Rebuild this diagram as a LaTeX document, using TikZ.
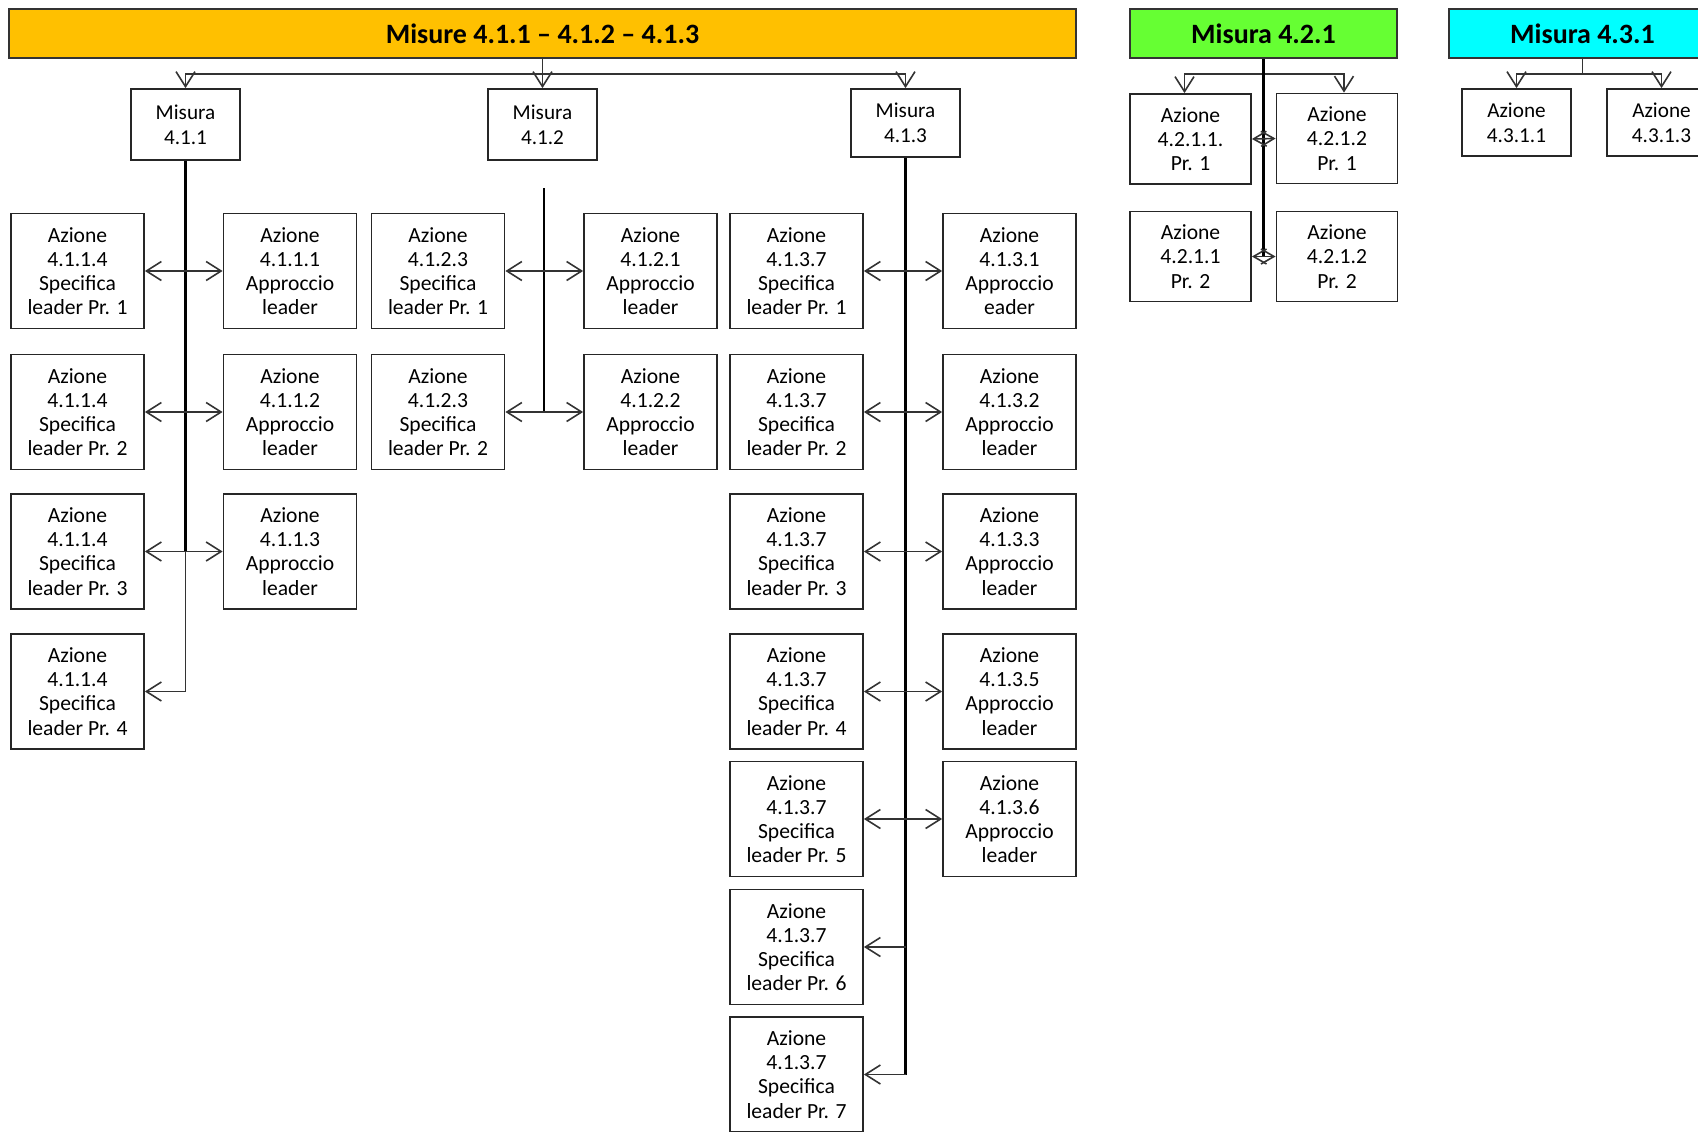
\documentclass[tikz,border=0pt]{standalone}
\usepackage{fontspec}
\setmainfont{Carlito}
\usetikzlibrary{arrows.meta}
\definecolor{barorange}{RGB}{255,192,0}
\definecolor{bargreen}{RGB}{102,255,51}
\definecolor{barcyan}{RGB}{0,255,255}
\tikzset{
  bar/.style={draw=black!80, line width=0.8pt, minimum width=133.5pt, minimum height=24.5pt, inner sep=0pt, font=\bfseries\fontsize{14}{16}\selectfont},
  misura/.style={draw=black!85, line width=0.9pt, minimum width=54.5pt, minimum height=35.5pt, inner sep=0pt, align=center, font=\fontsize{10.6}{12.6}\selectfont},
  azione/.style={draw=black!85, line width=0.9pt, minimum width=66.5pt, minimum height=57.5pt, inner sep=0pt, align=center, font=\fontsize{10.8}{12.1}\selectfont},
  pr/.style={azione, minimum width=60.5pt, minimum height=45pt},
  trunk/.style={line width=1.3pt},
  link/.style={line width=0.8pt, black!80},
}
\begin{document}
\begin{tikzpicture}[x=50pt, y=-50pt, >={Straight Barb[length=7.5pt,width=9.5pt]}]
    \useasboundingbox (0,0) rectangle (16.98,11.31);
    % top bars
    \node[bar, fill=barorange, minimum width=533.5pt] (bar1) at (5.425,0.335) {Misure 4.1.1 – 4.1.2 – 4.1.3};
    \node[bar, fill=bargreen] (bar2) at (12.635,0.335) {Misura 4.2.1};
    \node[bar, fill=barcyan] (bar3) at (15.825,0.335) {Misura 4.3.1};
    % misure
    \node[misura] (m411) at (1.855,1.245) {Misura\\4.1.1};
    \node[misura] (m412) at (5.425,1.245) {Misura\\4.1.2};
    \node[misura, minimum height=34pt] (m413) at (9.055,1.23) {Misura\\4.1.3};
    \coordinate (hl) at (5.425,0.74);
    \draw[->, link] (bar1.south) -- (m412.north);
    \draw[->, link] (hl) -| (m411.north);
    \draw[->, link] (hl) -| (m413.north);
    % azioni 4.1.1
    \node[azione] (a11) at (0.775,2.71) {Azione\\4.1.1.4\\Specifica\\leader Pr. 1};
    \node[azione] (a12) at (0.775,4.12) {Azione\\4.1.1.4\\Specifica\\leader Pr. 2};
    \node[azione] (a13) at (0.775,5.515) {Azione\\4.1.1.4\\Specifica\\leader Pr. 3};
    \node[azione] (a14) at (0.775,6.915) {Azione\\4.1.1.4\\Specifica\\leader Pr. 4};
    \node[azione] (a21) at (2.90,2.71) {Azione\\4.1.1.1\\Approccio\\leader};
    \node[azione] (a22) at (2.90,4.12) {Azione\\4.1.1.2\\Approccio\\leader};
    \node[azione] (a23) at (2.90,5.515) {Azione\\4.1.1.3\\Approccio\\leader};
    \draw[trunk] (m411.south) -- (m411.south |- a13.east);
    \draw[->, link] (m411.south |- a13.east) |- (a14.east);
    \draw[<->, link] (a11.east) -- (a21.west);
    \draw[<->, link] (a12.east) -- (a22.west);
    \draw[<->, link] (a13.east) -- (a23.west);
    % azioni 4.1.2
    \node[azione] (a31) at (4.38,2.71) {Azione\\4.1.2.3\\Specifica\\leader Pr. 1};
    \node[azione] (a32) at (4.38,4.12) {Azione\\4.1.2.3\\Specifica\\leader Pr. 2};
    \node[azione] (a41) at (6.505,2.71) {Azione\\4.1.2.1\\Approccio\\leader};
    \node[azione] (a42) at (6.505,4.12) {Azione\\4.1.2.2\\Approccio\\leader};
    \coordinate (t412) at (5.44,1.88);
    \draw[trunk] (t412) -- (t412 |- a32.east);
    \draw[<->, link] (a31.east) -- (a41.west);
    \draw[<->, link] (a32.east) -- (a42.west);
    % azioni 4.1.3
    \node[azione] (a51) at (7.965,2.71) {Azione\\4.1.3.7\\Specifica\\leader Pr. 1};
    \node[azione] (a52) at (7.965,4.12) {Azione\\4.1.3.7\\Specifica\\leader Pr. 2};
    \node[azione] (a53) at (7.965,5.515) {Azione\\4.1.3.7\\Specifica\\leader Pr. 3};
    \node[azione] (a54) at (7.965,6.915) {Azione\\4.1.3.7\\Specifica\\leader Pr. 4};
    \node[azione] (a55) at (7.965,8.19) {Azione\\4.1.3.7\\Specifica\\leader Pr. 5};
    \node[azione] (a56) at (7.965,9.47) {Azione\\4.1.3.7\\Specifica\\leader Pr. 6};
    \node[azione] (a57) at (7.965,10.745) {Azione\\4.1.3.7\\Specifica\\leader Pr. 7};
    \node[azione] (a61) at (10.095,2.71) {Azione\\4.1.3.1\\Approccio\\eader};
    \node[azione] (a62) at (10.095,4.12) {Azione\\4.1.3.2\\Approccio\\leader};
    \node[azione] (a63) at (10.095,5.515) {Azione\\4.1.3.3\\Approccio\\leader};
    \node[azione] (a64) at (10.095,6.915) {Azione\\4.1.3.5\\Approccio\\leader};
    \node[azione] (a65) at (10.095,8.19) {Azione\\4.1.3.6\\Approccio\\leader};
    \draw[trunk] (m413.south) -- (m413.south |- a57.east);
    \draw[<->, link] (a51.east) -- (a61.west);
    \draw[<->, link] (a52.east) -- (a62.west);
    \draw[<->, link] (a53.east) -- (a63.west);
    \draw[<->, link] (a54.east) -- (a64.west);
    \draw[<->, link] (a55.east) -- (a65.west);
    \draw[->, link] (m413.south |- a56.east) -- (a56.east);
    \draw[->, link] (m413.south |- a57.east) -- (a57.east);
    % misura 4.2.1
    \node[pr] (g11) at (11.905,1.39) {Azione\\4.2.1.1.\\Pr. 1};
    \node[pr] (g12) at (13.37,1.385) {Azione\\4.2.1.2\\Pr. 1};
    \node[pr] (g21) at (11.905,2.565) {Azione\\4.2.1.1\\Pr. 2};
    \node[pr] (g22) at (13.37,2.565) {Azione\\4.2.1.2\\Pr. 2};
    \coordinate (gj) at (12.635,0.74);
    \draw[->, link] (gj) -| ([xshift=-3pt]g11.north);
    \draw[->, link] (gj) -| ([xshift=3.5pt]g12.north);
    \draw[trunk] (bar2.south) -- (bar2.south |- g21.east);
    \draw[<->, link, >={Straight Barb[length=6.5pt,width=7.5pt]}] (g11.east) -- (g12.west);
    \draw[<->, link, >={Straight Barb[length=6.5pt,width=7.5pt]}] (g21.east) -- (g22.west);
    % misura 4.3.1
    \node[misura, minimum height=33.5pt] (k1) at (15.165,1.225) {Azione\\4.3.1.1};
    \node[misura, minimum height=33.5pt] (k2) at (16.615,1.225) {Azione\\4.3.1.3};
    \coordinate (kj) at (15.825,0.74);
    \draw[link] (bar3.south) -- (kj);
    \draw[->, link] (kj) -| (k1.north);
    \draw[->, link] (kj) -| (k2.north);
  \end{tikzpicture}
\end{document}
